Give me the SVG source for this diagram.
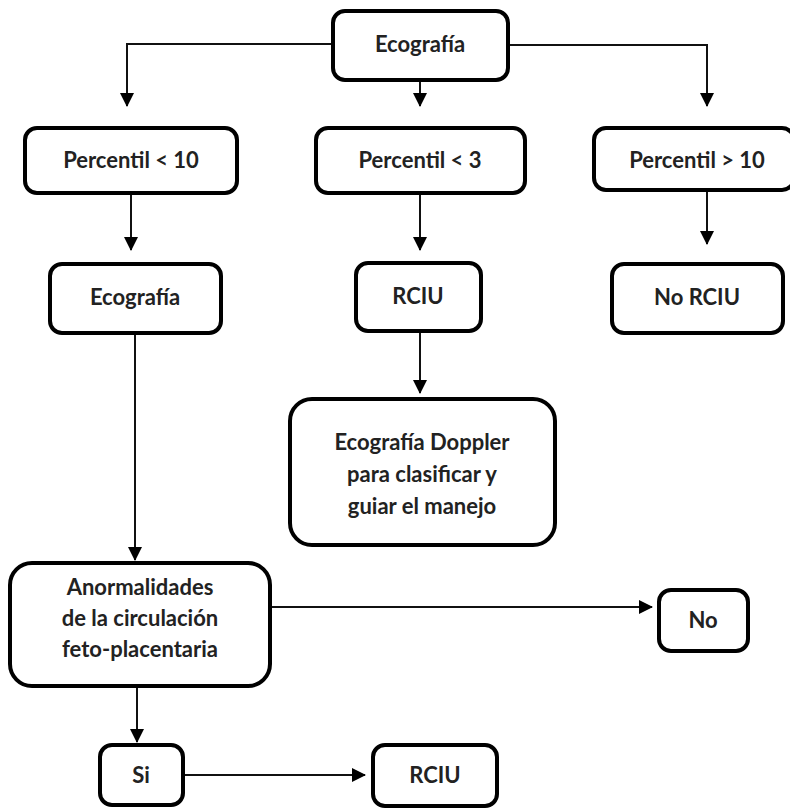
<svg xmlns="http://www.w3.org/2000/svg" width="790" height="808" viewBox="0 0 790 808">
<defs>
<marker id="ah" markerWidth="14" markerHeight="14" refX="13" refY="7" orient="auto" markerUnits="userSpaceOnUse" viewBox="0 0 14 14">
<path d="M0,0 L14,7 L0,14 z" fill="#000"/>
</marker>
<style>
.box{fill:#fff;stroke:#000;stroke-width:4}
.t{font-family:Lato,"Open Sans","Liberation Sans",sans-serif;font-weight:bold;font-size:22px;fill:#222;text-anchor:middle}
.c{fill:none;stroke:#111;stroke-width:2}
.ca{fill:none;stroke:#111;stroke-width:2;marker-end:url(#ah)}
</style>
</defs>
<rect width="790" height="808" fill="#fff"/>
<g id="connectors">
<polyline class="ca" points="333,44 127,44 127,106"/>
<polyline class="ca" points="508,45 707,45 707,106"/>
<line class="ca" x1="420" y1="80" x2="420" y2="106"/>
<line class="ca" x1="131" y1="193" x2="131" y2="250"/>
<line class="ca" x1="420" y1="193" x2="420" y2="250"/>
<line class="ca" x1="707" y1="190" x2="707" y2="244"/>
<line class="ca" x1="420" y1="331" x2="420" y2="393"/>
<line class="ca" x1="135" y1="333" x2="135" y2="560"/>
<line class="ca" x1="271" y1="607" x2="652" y2="607"/>
<line class="ca" x1="137" y1="687" x2="137" y2="742"/>
<line class="ca" x1="184" y1="775" x2="365" y2="775"/>
</g>
<g id="n-ecografia-top">
<rect class="box" x="333" y="11" width="175" height="69" rx="12"/>
<text class="t" x="420" y="52">Ecografía</text>
</g>
<g id="n-p10">
<rect class="box" x="25" y="128" width="212" height="65" rx="12"/>
<text class="t" x="131" y="168">Percentil &lt; 10</text>
</g>
<g id="n-p3">
<rect class="box" x="316" y="128" width="209" height="65" rx="12"/>
<text class="t" x="420" y="168">Percentil &lt; 3</text>
</g>
<g id="n-pgt10">
<rect class="box" x="594" y="128" width="200" height="62" rx="12"/>
<text class="t" x="697" y="168">Percentil &gt; 10</text>
</g>
<g id="n-ecografia2">
<rect class="box" x="50" y="264" width="171" height="69" rx="12"/>
<text class="t" x="135" y="305">Ecografía</text>
</g>
<g id="n-rciu1">
<rect class="box" x="356" y="263" width="125" height="68" rx="12"/>
<text class="t" x="418" y="304">RCIU</text>
</g>
<g id="n-norciu">
<rect class="box" x="612" y="264" width="171" height="69" rx="12"/>
<text class="t" x="697" y="305">No RCIU</text>
</g>
<g id="n-doppler">
<rect class="box" x="290" y="399" width="265" height="146" rx="22"/>
<text class="t" x="422" y="450">Ecografía Doppler</text>
<text class="t" x="422" y="482">para clasificar y</text>
<text class="t" x="422" y="514">guiar el manejo</text>
</g>
<g id="n-anormalidades">
<rect class="box" x="10" y="563" width="260" height="123" rx="22"/>
<text class="t" x="140" y="595">Anormalidades</text>
<text class="t" x="140" y="626">de la circulación</text>
<text class="t" x="140" y="657">feto-placentaria</text>
</g>
<g id="n-no">
<rect class="box" x="659" y="590" width="89" height="61" rx="12"/>
<text class="t" x="703" y="628">No</text>
</g>
<g id="n-si">
<rect class="box" x="100" y="745" width="83" height="60" rx="12"/>
<text class="t" x="141" y="783">Si</text>
</g>
<g id="n-rciu2">
<rect class="box" x="373" y="745" width="124" height="61" rx="12"/>
<text class="t" x="435" y="783">RCIU</text>
</g>
</svg>
